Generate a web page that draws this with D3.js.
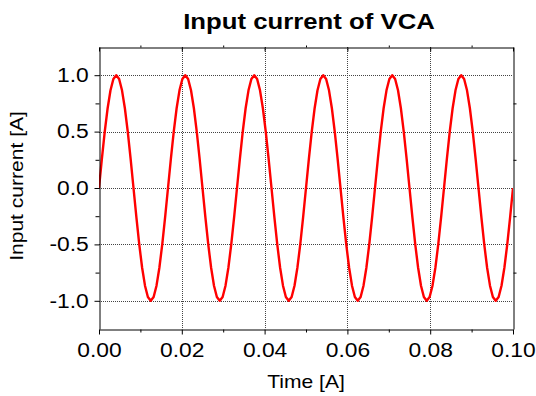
<!DOCTYPE html>
<html>
<head>
<meta charset="utf-8">
<script src="https://cdn.jsdelivr.net/npm/d3@7"></script>
<style>
  html, body { margin: 0; padding: 0; background: #fff; }
  svg { display: block; }
  text { font-family: "Liberation Sans", Arial, sans-serif; fill: #000; }
</style>
</head>
<body>
<svg id="chart" width="536" height="396"></svg>
<script>
// ---- data ----
const chartTitle = "Input current of VCA";
const xAxisLabel = "Time [A]";
const yAxisLabel = "Input current [A]";
const xTickValues = [0, 0.02, 0.04, 0.06, 0.08, 0.10];
const xTickLabels = ["0.00", "0.02", "0.04", "0.06", "0.08", "0.10"];
const xMinorTickValues = [0.01, 0.03, 0.05, 0.07, 0.09];
const yTickValues = [-1.0, -0.5, 0.0, 0.5, 1.0];
const yTickLabels = ["-1.0", "-0.5", "0.0", "0.5", "1.0"];
const yMinorTickValues = [-0.75, -0.25, 0.25, 0.75];
const timeValues = [
  0, 0.000694, 0.001389, 0.002083, 0.002778, 0.003472, 0.004167, 0.004861, 0.005556, 0.00625,
  0.006944, 0.007639, 0.008333, 0.009028, 0.009722, 0.010417, 0.011111, 0.011806, 0.0125, 0.013194,
  0.013889, 0.014583, 0.015278, 0.015972, 0.016667, 0.017361, 0.018056, 0.01875, 0.019444, 0.020139,
  0.020833, 0.021528, 0.022222, 0.022917, 0.023611, 0.024306, 0.025, 0.025694, 0.026389, 0.027083,
  0.027778, 0.028472, 0.029167, 0.029861, 0.030556, 0.03125, 0.031944, 0.032639, 0.033333, 0.034028,
  0.034722, 0.035417, 0.036111, 0.036806, 0.0375, 0.038194, 0.038889, 0.039583, 0.040278, 0.040972,
  0.041667, 0.042361, 0.043056, 0.04375, 0.044444, 0.045139, 0.045833, 0.046528, 0.047222, 0.047917,
  0.048611, 0.049306, 0.05, 0.050694, 0.051389, 0.052083, 0.052778, 0.053472, 0.054167, 0.054861,
  0.055556, 0.05625, 0.056944, 0.057639, 0.058333, 0.059028, 0.059722, 0.060417, 0.061111, 0.061806,
  0.0625, 0.063194, 0.063889, 0.064583, 0.065278, 0.065972, 0.066667, 0.067361, 0.068056, 0.06875,
  0.069444, 0.070139, 0.070833, 0.071528, 0.072222, 0.072917, 0.073611, 0.074306, 0.075, 0.075694,
  0.076389, 0.077083, 0.077778, 0.078472, 0.079167, 0.079861, 0.080556, 0.08125, 0.081944, 0.082639,
  0.083333, 0.084028, 0.084722, 0.085417, 0.086111, 0.086806, 0.0875, 0.088194, 0.088889, 0.089583,
  0.090278, 0.090972, 0.091667, 0.092361, 0.093056, 0.09375, 0.094444, 0.095139, 0.095833, 0.096528,
  0.097222, 0.097917, 0.098611, 0.099306, 0.1
];
const currentValues = [
  0, 0.259, 0.5, 0.707, 0.866, 0.966, 1, 0.966, 0.866, 0.707, 0.5, 0.259,
  0, -0.259, -0.5, -0.707, -0.866, -0.966, -1, -0.966, -0.866, -0.707, -0.5, -0.259,
  0, 0.259, 0.5, 0.707, 0.866, 0.966, 1, 0.966, 0.866, 0.707, 0.5, 0.259,
  0, -0.259, -0.5, -0.707, -0.866, -0.966, -1, -0.966, -0.866, -0.707, -0.5, -0.259,
  0, 0.259, 0.5, 0.707, 0.866, 0.966, 1, 0.966, 0.866, 0.707, 0.5, 0.259,
  0, -0.259, -0.5, -0.707, -0.866, -0.966, -1, -0.966, -0.866, -0.707, -0.5, -0.259,
  0, 0.259, 0.5, 0.707, 0.866, 0.966, 1, 0.966, 0.866, 0.707, 0.5, 0.259,
  0, -0.259, -0.5, -0.707, -0.866, -0.966, -1, -0.966, -0.866, -0.707, -0.5, -0.259,
  0, 0.259, 0.5, 0.707, 0.866, 0.966, 1, 0.966, 0.866, 0.707, 0.5, 0.259,
  0, -0.259, -0.5, -0.707, -0.866, -0.966, -1, -0.966, -0.866, -0.707, -0.5, -0.259,
  0, 0.259, 0.5, 0.707, 0.866, 0.966, 1, 0.966, 0.866, 0.707, 0.5, 0.259,
  0, -0.259, -0.5, -0.707, -0.866, -0.966, -1, -0.966, -0.866, -0.707, -0.5, -0.259,
  0
];
const xDomain = [0, 0.10];
const yDomain = [-1.25, 1.25];

// ---- layout ----
const plot = { left: 99, right: 513, top: 47, bottom: 329 };
const STRETCH = 1.17; // reference text is horizontally wider than Liberation Sans
const svg = d3.select("#chart");
const x = d3.scaleLinear().domain(xDomain).range([plot.left, plot.right]);
const y = d3.scaleLinear().domain(yDomain).range([plot.bottom, plot.top]);

// grid
const grid = svg.append("g").attr("class", "grid")
  .attr("stroke", "#444").attr("stroke-width", 1).attr("stroke-dasharray", "1,1");
grid.selectAll("line.h").data(yTickValues).join("line").attr("class", "h")
  .attr("x1", plot.left).attr("x2", plot.right)
  .attr("y1", d => Math.round(y(d)) + 0.5).attr("y2", d => Math.round(y(d)) + 0.5);
grid.selectAll("line.v").data(xTickValues.filter(d => d > xDomain[0] && d < xDomain[1])).join("line").attr("class", "v")
  .attr("y1", plot.top).attr("y2", plot.bottom)
  .attr("x1", d => Math.round(x(d)) + 0.5).attr("x2", d => Math.round(x(d)) + 0.5);

// series
svg.append("defs").append("clipPath").attr("id", "clip").append("rect")
  .attr("x", plot.left).attr("y", plot.top)
  .attr("width", plot.right - plot.left).attr("height", plot.bottom - plot.top);
const series = timeValues.map((t, i) => [t, currentValues[i]]);
svg.append("path").datum(series)
  .attr("clip-path", "url(#clip)")
  .attr("fill", "none").attr("stroke", "#ff0000").attr("stroke-width", 2.4)
  .attr("stroke-linejoin", "round")
  .attr("d", d3.line().x(d => x(d[0])).y(d => y(d[1])));

// axes
function styleAxis(g) {
  g.select(".domain").attr("stroke", "#000").attr("stroke-width", 1);
  g.selectAll(".tick line").attr("stroke", "#000");
}
// bottom major
svg.append("g").attr("transform", `translate(0,${plot.bottom + 0.5})`)
  .call(d3.axisBottom(x).tickValues(xTickValues).tickFormat((d, i) => xTickLabels[i]).tickSize(5).tickSizeOuter(0))
  .call(styleAxis)
  .call(g => g.selectAll("text")
    .attr("font-size", 19.5).attr("font-family", "Liberation Sans, Arial, sans-serif")
    .attr("y", 27.5).attr("dy", null).attr("transform", `scale(${STRETCH},1)`));
svg.append("g").attr("transform", `translate(0,${plot.bottom + 0.5})`)
  .call(d3.axisBottom(x).tickValues(xMinorTickValues).tickFormat("").tickSize(3).tickSizeOuter(0))
  .call(styleAxis).call(g => g.select(".domain").remove());
// top
svg.append("g").attr("transform", `translate(0,${plot.top + 0.5})`)
  .call(d3.axisTop(x).tickValues(xMinorTickValues).tickFormat("").tickSize(2).tickSizeOuter(0))
  .call(styleAxis);
svg.append("g").attr("transform", `translate(0,${plot.top + 0.5})`)
  .call(d3.axisBottom(x).tickValues(xTickValues).tickFormat("").tickSize(4).tickSizeOuter(0))
  .call(styleAxis).call(g => g.select(".domain").remove());
// left
svg.append("g").attr("transform", `translate(${plot.left + 0.5},0)`)
  .call(d3.axisLeft(y).tickValues(yTickValues).tickFormat((d, i) => yTickLabels[i]).tickSize(5).tickSizeOuter(0))
  .call(styleAxis)
  .call(g => g.selectAll("text")
    .attr("font-size", 19.5).attr("font-family", "Liberation Sans, Arial, sans-serif")
    .attr("x", -10.8 / STRETCH).attr("transform", `scale(${STRETCH},1)`));
svg.append("g").attr("transform", `translate(${plot.left + 0.5},0)`)
  .call(d3.axisLeft(y).tickValues(yMinorTickValues).tickFormat("").tickSize(4).tickSizeOuter(0))
  .call(styleAxis).call(g => g.select(".domain").remove());
// right
svg.append("g").attr("transform", `translate(${plot.right + 0.5},0)`)
  .call(d3.axisRight(y).tickValues(yMinorTickValues).tickFormat("").tickSize(3).tickSizeOuter(0))
  .call(styleAxis);

// titles
svg.append("text").attr("transform", `translate(309,29) scale(${STRETCH},1)`)
  .attr("text-anchor", "middle").attr("font-size", 22).attr("font-weight", "bold").text(chartTitle);
svg.append("text").attr("transform", `translate(306,388) scale(${STRETCH},1)`)
  .attr("text-anchor", "middle").attr("font-size", 18).text(xAxisLabel);
svg.append("text").attr("transform", `translate(23,186) rotate(-90) scale(${STRETCH},1)`)
  .attr("text-anchor", "middle").attr("font-size", 18).text(yAxisLabel);
</script>
</body>
</html>
